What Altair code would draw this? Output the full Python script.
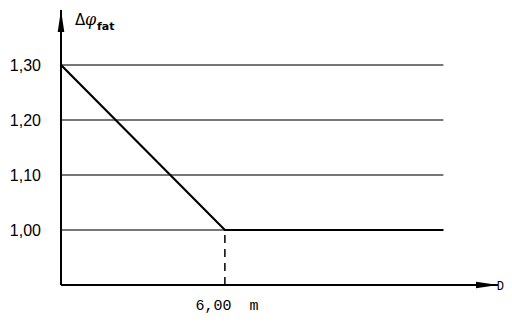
import altair as alt
import pandas as pd

# Data
curve_x = [0.0, 6.0, 14.0]
curve_y = [1.30, 1.00, 1.00]
grid_values = [1.00, 1.10, 1.20, 1.30]
grid_labels = ["1,00", "1,10", "1,20", "1,30"]
grid_end = 14.0
x_min, x_max = 0.0, 16.0
y_min, y_max = 0.90, 1.40
mark_x = 6.0
mark_label = "6,00\u00a0\u00a0m"

xs = alt.Scale(domain=[x_min, x_max], nice=False, zero=False)
ys = alt.Scale(domain=[y_min, y_max], nice=False, zero=False)

grid_df = pd.DataFrame({"y": grid_values, "label": grid_labels,
                        "x0": [x_min] * 4, "x1": [grid_end] * 4})
curve_df = pd.DataFrame({"x": curve_x, "y": curve_y})

grid = alt.Chart(grid_df).mark_rule(color="#4a4a4a", strokeWidth=1.5).encode(
    x=alt.X("x0:Q", scale=xs, axis=None), x2="x1:Q",
    y=alt.Y("y:Q", scale=ys, axis=None))

ticklabels = alt.Chart(grid_df).mark_text(
    align="right", baseline="middle", dx=-20, dy=1, fontSize=16,
    font="Liberation Sans", color="black").encode(
    x=alt.X("x0:Q", scale=xs, axis=None),
    y=alt.Y("y:Q", scale=ys, axis=None), text="label:N")

curve = alt.Chart(curve_df).mark_line(color="black", strokeWidth=2.2).encode(
    x=alt.X("x:Q", scale=xs, axis=None), y=alt.Y("y:Q", scale=ys, axis=None))

dash_df = pd.DataFrame({"x": [mark_x], "y0": [y_min], "y1": [1.00]})
dash = alt.Chart(dash_df).mark_rule(color="black", strokeWidth=1.5,
                                     strokeDash=[8, 6]).encode(
    x=alt.X("x:Q", scale=xs, axis=None),
    y=alt.Y("y0:Q", scale=ys, axis=None), y2="y1:Q")

xlabel = alt.Chart(dash_df).mark_text(
    align="center", baseline="bottom", dy=28, dx=2, fontSize=15,
    font="Liberation Mono", color="black").encode(
    x=alt.X("x:Q", scale=xs, axis=None),
    y=alt.Y("y0:Q", scale=ys, axis=None), text=alt.value(mark_label))

axes_df = pd.DataFrame({"x0": [x_min, x_min], "x1": [x_min, x_max],
                        "y0": [y_min, y_min], "y1": [y_max, y_min]})
axes = alt.Chart(axes_df).mark_rule(color="black", strokeWidth=2).encode(
    x=alt.X("x0:Q", scale=xs, axis=None), x2="x1:Q",
    y=alt.Y("y0:Q", scale=ys, axis=None), y2="y1:Q")

arrow_up = alt.Chart(pd.DataFrame({"x": [x_min], "y": [y_max]})).mark_point(
    shape="M0,0 L0.3,2 L-0.3,2 Z", size=484, filled=True, color="black",
    opacity=1).encode(x=alt.X("x:Q", scale=xs, axis=None),
                      y=alt.Y("y:Q", scale=ys, axis=None))
arrow_right = alt.Chart(pd.DataFrame({"x": [x_max], "y": [y_min]})).mark_point(
    shape="M0,0 L-2,0.3 L-2,-0.3 Z", size=484, filled=True, color="black",
    opacity=1).encode(x=alt.X("x:Q", scale=xs, axis=None),
                      y=alt.Y("y:Q", scale=ys, axis=None))

dlabel = alt.Chart(pd.DataFrame({"x": [x_max], "y": [y_min]})).mark_text(
    align="right", baseline="middle", dx=6, dy=1, fontSize=12,
    font="Liberation Mono", color="black").encode(
    x=alt.X("x:Q", scale=xs, axis=None), y=alt.Y("y:Q", scale=ys, axis=None),
    text=alt.value("D"))

ylab = alt.Chart(pd.DataFrame({"x": [x_min], "y": [y_max]})).mark_text(
    align="left", baseline="alphabetic", dx=14, dy=15, fontSize=15,
    font="DejaVu Sans", color="black").encode(
    x=alt.X("x:Q", scale=xs, axis=None), y=alt.Y("y:Q", scale=ys, axis=None),
    text=alt.value("Δ"))
yphi = alt.Chart(pd.DataFrame({"x": [x_min], "y": [y_max]})).mark_text(
    align="left", baseline="alphabetic", dx=24, dy=15, fontSize=16,
    fontStyle="italic", font="DejaVu Serif", color="black").encode(
    x=alt.X("x:Q", scale=xs, axis=None), y=alt.Y("y:Q", scale=ys, axis=None),
    text=alt.value("φ"))
ysub = alt.Chart(pd.DataFrame({"x": [x_min], "y": [y_max]})).mark_text(
    align="left", baseline="alphabetic", dx=36, dy=20, fontSize=11,
    fontWeight="bold", font="DejaVu Sans", color="black").encode(
    x=alt.X("x:Q", scale=xs, axis=None), y=alt.Y("y:Q", scale=ys, axis=None),
    text=alt.value("fat"))

chart = alt.layer(grid, curve, dash, axes, arrow_up, arrow_right, ticklabels,
                  xlabel, dlabel, ylab, yphi, ysub).properties(
    width=437, height=275,
    background="white",
    autosize=alt.AutoSizeParams(type="none"),
    padding={"left": 53, "top": 2, "right": 6, "bottom": 29},
).configure_view(strokeWidth=0, stroke="transparent")

chart.save("out.html", embed_options={"renderer": "svg", "actions": False})
